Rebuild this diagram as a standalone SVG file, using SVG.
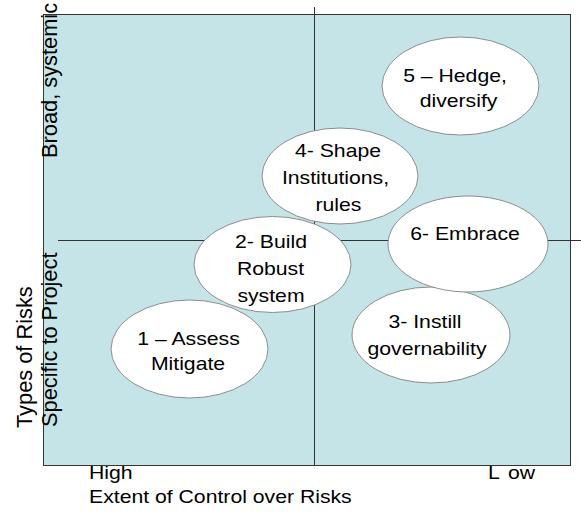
<svg xmlns="http://www.w3.org/2000/svg" width="581" height="518" viewBox="0 0 581 518">
  <style>
    .panel { fill: #C5E4E8; stroke: #333333; stroke-width: 1; }
    .divider { stroke: #333333; stroke-width: 1; fill: none; }
    .bubble { fill: #FFFFFF; stroke: #8C8C8C; stroke-width: 1; }
    .lbl { font-family: "Liberation Sans", Arial, sans-serif; font-size: 18.6px; fill: #000000; text-anchor: middle; }
    .axis { font-family: "Liberation Sans", Arial, sans-serif; font-size: 18.6px; fill: #000000; }
    .vaxis { font-family: "Liberation Sans", Arial, sans-serif; font-size: 21.8px; fill: #000000; }
  </style>

  <!-- quadrant panel -->
  <rect class="panel" x="43.5" y="14.5" width="527" height="451"/>

  <g id="connectors">
    <line class="divider" x1="314.5" y1="7" x2="314.5" y2="465.5"/>
    <line class="divider" x1="58" y1="240.5" x2="581" y2="240.5"/>
  </g>

  <!-- vertical axis labels -->
  <text class="vaxis" transform="translate(57 158) rotate(-90)">Broad, systemic</text>
  <text class="vaxis" transform="translate(57 427) rotate(-90)">Specific to Project</text>
  <text class="vaxis" transform="translate(32 428) rotate(-90)">Types of Risks</text>

  <!-- horizontal axis labels -->
  <text class="axis" transform="translate(89 479) scale(1.14 1)">High</text>
  <text class="axis" transform="translate(488 479) scale(1.14 1)">L<tspan x="17.5">ow</tspan></text>
  <text class="axis" transform="translate(89 503) scale(1.14 1)">Extent of Control over Risks</text>

  <g id="node1">
    <ellipse class="bubble" cx="189.5" cy="349" rx="78.5" ry="49"/>
    <text class="lbl" transform="translate(188.5 345) scale(1.14 1)">1 – Assess</text>
    <text class="lbl" transform="translate(188 370) scale(1.14 1)">Mitigate</text>
  </g>

  <g id="node2">
    <ellipse class="bubble" cx="272.5" cy="264.5" rx="78.5" ry="48"/>
    <text class="lbl" transform="translate(271 248) scale(1.14 1)">2- Build</text>
    <text class="lbl" transform="translate(270.5 275) scale(1.14 1)">Robust</text>
    <text class="lbl" transform="translate(271 302) scale(1.14 1)">system</text>
  </g>

  <g id="node4">
    <ellipse class="bubble" cx="340" cy="176" rx="78" ry="48"/>
    <text class="lbl" transform="translate(338 157) scale(1.14 1)">4- Shape</text>
    <text class="lbl" transform="translate(335.5 184) scale(1.14 1)">Institutions,</text>
    <text class="lbl" transform="translate(338.5 211) scale(1.14 1)">rules</text>
  </g>

  <g id="node3">
    <ellipse class="bubble" cx="431" cy="335" rx="79" ry="48"/>
    <text class="lbl" transform="translate(425 328) scale(1.14 1)">3- Instill</text>
    <text class="lbl" transform="translate(427 355) scale(1.14 1)">governability</text>
  </g>

  <g id="node6">
    <ellipse class="bubble" cx="468" cy="244" rx="80" ry="48"/>
    <text class="lbl" transform="translate(465 240) scale(1.14 1)">6- Embrace</text>
  </g>

  <g id="node5">
    <ellipse class="bubble" cx="460.5" cy="86" rx="78.5" ry="49"/>
    <text class="lbl" transform="translate(455 82) scale(1.14 1)">5 – Hedge,</text>
    <text class="lbl" transform="translate(458.5 107) scale(1.14 1)">diversify</text>
  </g>
</svg>
